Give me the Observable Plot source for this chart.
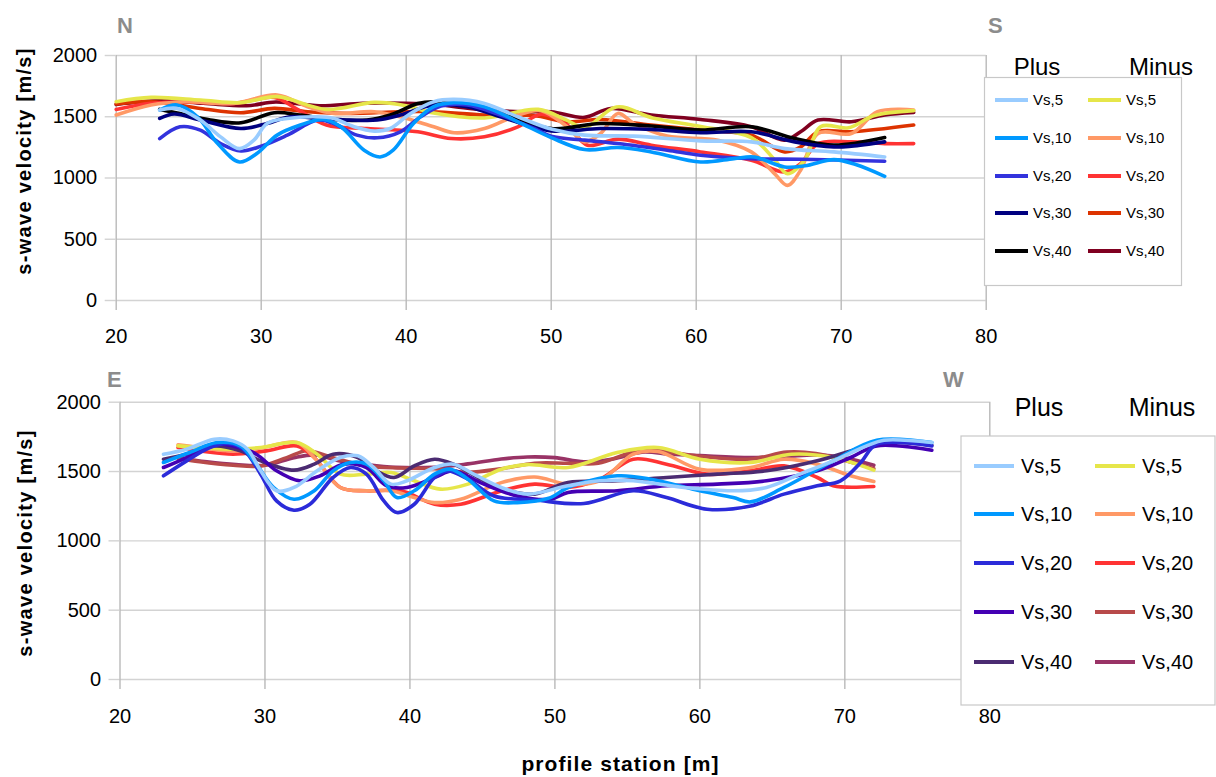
<!DOCTYPE html>
<html><head><meta charset="utf-8">
<script src="https://cdn.jsdelivr.net/npm/d3@7"></script>
<script src="https://cdn.jsdelivr.net/npm/@observablehq/plot@0.6"></script>
<style>
html,body{margin:0;padding:0;background:#fff;}
#chart{position:relative;width:1216px;height:777px;overflow:hidden;font-family:'Liberation Sans',Arial,sans-serif;}
#chart > svg{position:absolute;left:0;}
</style></head><body><div id="chart"></div>
<script>
// ---- tick values ----
const xTicks = [20, 30, 40, 50, 60, 70, 80];
const yTicks = [0, 500, 1000, 1500, 2000];
const seriesNames = ["Vs,5", "Vs,10", "Vs,20", "Vs,30", "Vs,40"];
const groupNames = ["Plus", "Minus"];
const yTitle = "s-wave velocity [m/s]";
const xTitle = "profile station [m]";
const topEnds = ["N", "S"];
const botEnds = ["E", "W"];

// ---- top panel (N-S) : [station, velocity] ----
const topPlus5 = [[23,1555],[24.2,1568],[25.8,1473],[27.2,1336],[28.5,1240],[29.5,1309],[30.4,1445],[31.8,1486],[33.9,1500],[35,1486],[36.4,1418],[37.8,1383],[38.9,1404],[40.3,1527],[41.9,1623],[43.3,1642],[45.4,1609],[47.7,1500],[50,1400],[52.3,1350],[55.7,1342],[60.3,1303],[63.8,1295],[66.1,1240],[69.5,1213],[73,1172]];
const topPlus10 = [[23,1555],[24.2,1596],[25.6,1500],[27,1281],[28.5,1131],[29.7,1200],[31.1,1350],[32.7,1432],[34.3,1478],[35.5,1418],[37.1,1227],[38.2,1172],[39.1,1227],[40.5,1445],[41.9,1582],[43.3,1615],[45.4,1582],[47.7,1459],[50,1330],[52.3,1232],[54.6,1249],[56.9,1213],[60.3,1131],[62.6,1158],[64,1172],[66.1,1090],[67.5,1100],[69.5,1150],[71,1110],[73,1014]];
const topPlus20 = [[23,1322],[24.4,1418],[25.8,1391],[27.2,1281],[28.6,1221],[30,1260],[31.8,1350],[33.9,1473],[35,1445],[36.6,1350],[38,1328],[39.6,1377],[41,1500],[42.4,1587],[44.2,1596],[46.5,1514],[48.9,1400],[50,1340],[52.3,1309],[54.6,1281],[58,1227],[60.3,1186],[63.8,1158],[67.2,1153],[73,1137]];
const topPlus30 = [[23,1486],[24,1522],[25.8,1473],[28.6,1404],[30.4,1445],[32,1500],[33.9,1486],[36.2,1473],[38,1473],[39.6,1514],[41.9,1596],[44.2,1582],[46.5,1500],[50,1385],[53.4,1404],[56.9,1396],[60.3,1369],[63.8,1377],[66.8,1295],[69.5,1254],[70.7,1260],[73,1295]];
const topPlus40 = [[23,1560],[24.4,1527],[26.5,1473],[28.6,1451],[30.9,1533],[32.7,1514],[35,1478],[37.3,1473],[38.9,1514],[40.8,1609],[41.9,1623],[44.2,1587],[46.5,1527],[50,1404],[53.4,1445],[56.9,1424],[60.3,1391],[63.8,1418],[66.8,1322],[69.5,1268],[73,1330]];
const topMinus5 = [[20,1623],[22.4,1658],[25.8,1637],[28.6,1615],[31.1,1664],[34.5,1560],[37.8,1617],[40,1590],[41.9,1530],[45.4,1490],[49.1,1560],[51.1,1470],[52.3,1410],[54.5,1580],[57,1490],[60.3,1420],[63.8,1330],[65.4,1150],[66.3,1035],[67.5,1150],[68.6,1420],[70.5,1410],[72.3,1510],[75,1550]];
const topMinus10 = [[20,1514],[22.4,1596],[24.7,1623],[28.1,1609],[31.1,1678],[33.2,1582],[35,1527],[37.8,1541],[39.6,1500],[41.9,1418],[43.3,1369],[45.4,1404],[47.7,1514],[49.3,1550],[51.1,1418],[52.3,1295],[53.4,1363],[54.6,1527],[55.7,1445],[58,1342],[61.5,1309],[63.8,1213],[65.4,1036],[66.3,940],[67.2,1063],[68.4,1363],[70.7,1363],[72.5,1541],[75,1555]];
const topMinus20 = [[20,1560],[22.4,1610],[25,1620],[28.1,1609],[30.9,1658],[32.5,1560],[34.5,1432],[37.3,1404],[40.8,1377],[43.1,1322],[45.4,1336],[47.7,1418],[49.3,1520],[51.1,1432],[52.5,1268],[54.6,1317],[56.9,1268],[60.3,1213],[63.8,1145],[66.1,1049],[67.2,1117],[68.4,1281],[70.7,1295],[73,1281],[75,1281]];
const topMinus30 = [[20,1604],[22.4,1623],[25.8,1568],[28.6,1533],[30.9,1568],[33.2,1541],[36.2,1527],[39.6,1541],[41.9,1541],[45.4,1514],[48.8,1510],[51.1,1459],[53.4,1478],[56.9,1432],[60.3,1391],[63.8,1350],[66.1,1213],[67.2,1254],[68.4,1377],[70.7,1377],[75,1432]];
const topMinus40 = [[20,1600],[23,1630],[26,1610],[29,1590],[31,1620],[34,1590],[37,1610],[40,1610],[42,1600],[45,1560],[48,1540],[50,1541],[52.3,1495],[54.1,1568],[56.9,1514],[60.3,1478],[63.8,1418],[66.1,1309],[67.2,1377],[68.4,1473],[70.7,1459],[73,1514],[75,1535]];

// ---- bottom panel (E-W) ----
const botPlus5 = [[23,1625],[24.6,1661],[26.5,1733],[27.8,1721],[28.8,1661],[29.7,1505],[30.8,1361],[32,1385],[33.6,1505],[35.2,1601],[36.4,1613],[37.5,1529],[38.7,1409],[39.8,1433],[41.7,1529],[43,1553],[44.4,1481],[46.3,1385],[48.1,1337],[50.9,1397],[53.1,1433],[55.4,1433],[58.9,1385],[62.3,1361],[64.6,1385],[66.9,1481],[69.2,1577],[71.5,1685],[72.7,1726],[76,1709]];
const botPlus10 = [[23,1565],[24.8,1637],[26.7,1709],[28.3,1685],[29.4,1553],[30.6,1385],[32,1300],[33.4,1361],[34.7,1505],[35.9,1565],[37,1553],[38.2,1433],[39.1,1312],[40.3,1361],[41.7,1481],[42.8,1517],[44,1445],[45.8,1288],[47.4,1276],[49.7,1312],[50.9,1385],[54.3,1469],[56.6,1445],[60,1361],[62.3,1312],[63.5,1281],[65.8,1385],[69.2,1577],[72.2,1726],[76,1709]];
const botPlus20 = [[23,1469],[24.6,1577],[26.2,1673],[27.4,1702],[28.5,1661],[29.7,1481],[30.8,1288],[32,1221],[33.1,1264],[34.7,1457],[35.9,1529],[37,1481],[38.2,1288],[39.1,1204],[40.3,1264],[41.7,1457],[42.6,1505],[44,1445],[45.8,1324],[48.6,1295],[52,1269],[55.4,1361],[57.7,1312],[60.5,1228],[63.5,1252],[65.8,1337],[68.1,1397],[69.7,1433],[71.1,1565],[72.2,1697],[76,1685]];
const botPlus30 = [[23,1529],[24.6,1601],[26.5,1697],[27.8,1685],[29.4,1625],[30.8,1505],[32.4,1433],[33.8,1469],[35.4,1553],[37,1529],[38.4,1397],[39.8,1385],[41.7,1457],[43,1505],[45.1,1409],[47.4,1324],[49.7,1300],[50.9,1349],[54.3,1361],[57.7,1397],[61.2,1409],[64.6,1433],[68.1,1505],[70.4,1601],[72.2,1685],[76,1654]];
const botPlus40 = [[23,1589],[24.6,1625],[26.5,1685],[28.3,1649],[29.7,1577],[32,1510],[33.4,1553],[34.7,1625],[36.4,1601],[37.7,1505],[38.9,1457],[40.3,1541],[41.7,1589],[43,1553],[45.1,1433],[46.5,1370],[48.6,1337],[50.9,1421],[54.3,1433],[57.7,1457],[61.2,1481],[64.6,1505],[68.1,1577],[70.4,1649],[72.2,1709],[76,1690]];
const botMinus5 = [[24,1685],[25.5,1673],[27.8,1661],[29.7,1673],[32.2,1709],[33.6,1625],[35.2,1481],[37,1481],[38.7,1493],[40.3,1433],[42.1,1373],[44,1409],[46.3,1517],[48.1,1550],[50.9,1529],[54.3,1637],[57.1,1673],[60,1589],[63.5,1565],[66.3,1625],[69.2,1601],[72,1510]];
const botMinus10 = [[24,1692],[25.5,1673],[27.8,1649],[29.9,1673],[32.2,1709],[33.6,1577],[35.2,1385],[37,1361],[38.7,1361],[40.3,1312],[41.7,1276],[43.5,1300],[46.3,1420],[48.6,1460],[50.9,1409],[53.1,1433],[55.4,1625],[57.1,1644],[60,1517],[63.5,1529],[65.8,1589],[68.1,1553],[70.4,1469],[72,1428]];
const botMinus20 = [[24,1673],[25.5,1649],[27.8,1625],[30.1,1649],[32.2,1685],[33.4,1601],[35.2,1385],[37,1361],[39.4,1361],[41.7,1264],[43.5,1264],[46.3,1360],[48.6,1409],[50.9,1385],[53.1,1445],[55.4,1589],[57.7,1553],[60.5,1481],[63.5,1505],[65.8,1541],[68.1,1457],[69.2,1397],[72,1392]];
const botMinus30 = [[24,1595],[25.5,1570],[27.8,1545],[29.7,1540],[31.5,1600],[32.9,1650],[34.7,1600],[37,1540],[39.4,1525],[41.7,1520],[44,1495],[46.3,1520],[48.6,1560],[50.9,1560],[53,1560],[55.4,1640],[57.1,1650],[60,1610],[63.5,1590],[66,1640],[68,1630],[70,1580],[72,1520]];
const botMinus40 = [[24,1600],[26,1570],[28,1550],[30,1545],[32,1600],[33.5,1620],[35,1580],[37,1550],[39,1530],[41.7,1530],[44,1555],[46.3,1590],[48.1,1605],[50,1600],[52,1570],[54,1590],[56,1640],[58,1625],[60,1615],[63.5,1600],[66,1610],[68,1620],[70,1600],[72,1545]];

// ---- colours ----
const topPlusColors = ["#99ccff", "#0099ff", "#3333dd", "#000080", "#000000"];
const topMinusColors = ["#e6e64a", "#ff9966", "#ff3333", "#dd3300", "#800020"];
const botPlusColors = ["#99ccff", "#0099ff", "#2b2bd9", "#4400b3", "#4b2b72"];
const botMinusColors = ["#e6e64a", "#ff9966", "#ff3333", "#b84a4a", "#993366"];

const topPlus = [topPlus5, topPlus10, topPlus20, topPlus30, topPlus40];
const topMinus = [topMinus5, topMinus10, topMinus20, topMinus30, topMinus40];
const botPlus = [botPlus5, botPlus10, botPlus20, botPlus30, botPlus40];
const botMinus = [botMinus5, botMinus10, botMinus20, botMinus30, botMinus40];

const FONT = "'Liberation Sans', Arial, sans-serif";
const GRIDV = "#b9b9b9", GRIDH = "#d3d3d3";

function makePanel(plus, minus, plusC, minusC, m) {
  const lines = [];
  for (let i = 4; i >= 0; i--) lines.push(Plot.line(minus[i], {x: d => d[0], y: d => d[1], stroke: minusC[i], strokeWidth: 3.6, curve: "catmull-rom"}));
  for (let i = 4; i >= 0; i--) lines.push(Plot.line(plus[i], {x: d => d[0], y: d => d[1], stroke: plusC[i], strokeWidth: 3.6, curve: "catmull-rom"}));
  const svg = Plot.plot({
    width: 1216, height: m.h,
    marginLeft: m.l, marginRight: m.r, marginTop: m.t, marginBottom: m.b,
    style: {fontFamily: FONT, fontSize: "20px", color: "#000", background: "transparent", overflow: "visible"},
    x: {domain: [20, 80]},
    y: {domain: [0, 2000]},
    marks: [
      Plot.gridY(yTicks, {stroke: GRIDH, strokeOpacity: 1, strokeWidth: 1.4}),
      Plot.gridX(xTicks, {stroke: GRIDV, strokeOpacity: 1, strokeWidth: 1.4}),
      Plot.axisY(yTicks, {tickSize: 11, tickPadding: 8, stroke: GRIDH, strokeWidth: 1.4, fill: "#000", tickFormat: "d", label: null}),
      Plot.axisX(xTicks, {tickSize: 10, tickPadding: m.pad, stroke: GRIDV, strokeWidth: 1.4, fill: "#000", tickFormat: "d", label: null}),
      ...lines
    ]
  });
  svg.style.top = m.top + "px";
  return svg;
}

const chart = document.getElementById("chart");
chart.appendChild(makePanel(topPlus, topMinus, topPlusColors, topMinusColors,
  {h: 360, top: 0, l: 115.7, r: 230.3, t: 55, b: 60, pad: 18}));
chart.appendChild(makePanel(botPlus, botMinus, botPlusColors, botMinusColors,
  {h: 417, top: 360, l: 119.5, r: 226.7, t: 41.7, b: 98, pad: 19}));

// ---- overlay: titles, compass letters, legends ----
const ov = d3.select(chart).append("svg")
  .attr("width", 1216).attr("height", 777)
  .style("position", "absolute").style("top", "0px").style("left", "0px")
  .style("font-family", FONT);

function txt(x, y, s, size, opts = {}) {
  const t = ov.append("text").attr("x", x).attr("y", y).text(s)
    .attr("font-size", size).attr("fill", opts.fill || "#000")
    .attr("font-weight", opts.bold ? "bold" : "normal")
    .attr("text-anchor", opts.anchor || "start");
  if (opts.ls) t.attr("letter-spacing", opts.ls);
  if (opts.rot) t.attr("transform", `rotate(-90,${x},${y})`);
  return t;
}

// compass letters
txt(117, 33, topEnds[0], 22, {bold: true, fill: "#8c8c8c"});
txt(988, 33, topEnds[1], 22, {bold: true, fill: "#8c8c8c"});
txt(107, 387, botEnds[0], 22, {bold: true, fill: "#8c8c8c"});
txt(943, 387, botEnds[1], 22, {bold: true, fill: "#8c8c8c"});

// axis titles
txt(31, 161, yTitle, 20, {bold: true, anchor: "middle", rot: true, ls: 1.3});
txt(32, 543, yTitle, 20, {bold: true, anchor: "middle", rot: true, ls: 1.3});
txt(620.5, 771, xTitle, 21, {bold: true, anchor: "middle", ls: 1.1});

function legend(L, plusC, minusC) {
  ov.append("rect").attr("x", L.x).attr("y", L.y).attr("width", L.w).attr("height", L.h)
    .attr("fill", "#fff").attr("stroke", "#c8c8c8").attr("stroke-width", 1.2);
  txt(L.c1, L.hy, groupNames[0], L.hs, {anchor: "middle"});
  txt(L.c2, L.hy, groupNames[1], L.hs, {anchor: "middle"});
  seriesNames.forEach((name, i) => {
    const y = L.rows[i];
    [[L.l1, plusC[i]], [L.l2, minusC[i]]].forEach(([lx, c]) => {
      ov.append("line").attr("x1", lx).attr("x2", lx + L.len).attr("y1", y).attr("y2", y)
        .attr("stroke", c).attr("stroke-width", 4);
      txt(lx + L.len + L.gap, y + L.fs * 0.36, name, L.fs);
    });
  });
}
legend({x: 984.5, y: 77.5, w: 197, h: 208, c1: 1037, c2: 1161, hy: 75, hs: 24,
  rows: [100, 138, 176, 213, 251], l1: 995, l2: 1088, len: 33, gap: 5, fs: 15}, topPlusColors, topMinusColors);
legend({x: 961, y: 436, w: 254, h: 269, c1: 1039, c2: 1162, hy: 416, hs: 25,
  rows: [466, 514, 563, 612, 662], l1: 974, l2: 1095, len: 40, gap: 7, fs: 20}, botPlusColors, botMinusColors);
</script></body></html>
